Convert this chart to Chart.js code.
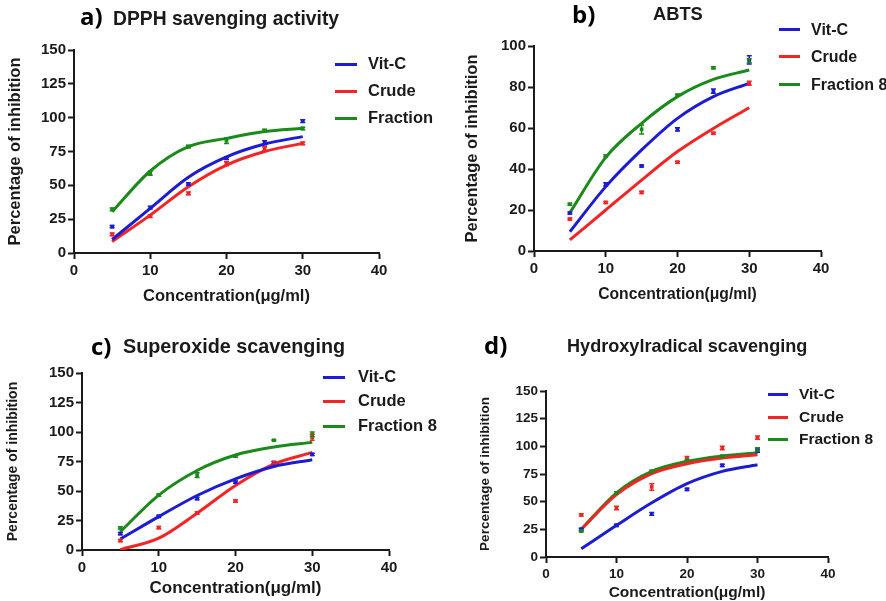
<!DOCTYPE html>
<html><head><meta charset="utf-8">
<script src="https://cdn.jsdelivr.net/npm/chart.js@4.4.0/dist/chart.umd.min.js"></script>
<style>
html,body{margin:0;padding:0;background:#fff;}
#wrap{position:relative;width:886px;height:601px;overflow:hidden;font-family:"Liberation Sans",Arial,sans-serif;background:#fff;}
canvas{position:absolute;left:0;top:0;pointer-events:none;}
.t{position:absolute;white-space:nowrap;font-weight:bold;color:#1a1a1a;line-height:1.2;}
.lab{font-family:"Open Sans",sans-serif;color:#000;}
.ls{position:absolute;height:3px;}
</style></head>
<body><div id="wrap"></div>
<script>
// ---------- data ----------
const conc = [5, 10, 15, 20, 25, 30];
const seriesNames = ['Vit-C', 'Crude', 'Fraction 8'];
const seriesNamesA = ['Vit-C', 'Crude', 'Fraction'];
const xTicks = [0, 10, 20, 30, 40];

// a) DPPH
const dpphVitC = [19.5, 33.5, 51, 70, 81.5, 97.5];
const dpphCrude = [13.8, 27.3, 44, 66, 77, 81];
const dpphFraction = [32.3, 58.9, 78.6, 83, 90.4, 92];
const dpphVitCErr = [0.8, 1, 1, 1, 1.5, 1];
const dpphCrudeErr = [1, 1, 1, 1.5, 1.5, 1];
const dpphFractionErr = [1, 1.5, 1, 2, 1, 1];
const dpphVitCFit = [10, 33, 56, 71, 80.5, 86];
const dpphCrudeFit = [8.4, 28, 49, 65, 75, 81];
const dpphFractionFit = [30.5, 60.6, 78.6, 84.7, 89.7, 92.1];

// b) ABTS
const abtsVitC = [18.5, 32.5, 41.5, 59.3, 78, 93.2];
const abtsCrude = [15.6, 23.7, 28.6, 43.3, 57.4, 81.8];
const abtsFraction = [22.8, 46.3, 59.3, 76, 89.4, 92.8];
const abtsVitCErr = [0.5, 0.8, 0.5, 0.8, 1, 2];
const abtsCrudeErr = [0.5, 0.5, 0.5, 0.5, 0.5, 1];
const abtsFractionErr = [0.5, 0.5, 2.2, 0.5, 0.5, 1];
const abtsVitCFit = [9.4, 31.4, 49.3, 64.7, 75.3, 81.8];
const abtsCrudeFit = [5.4, 20, 34.6, 48.5, 59.8, 69.9];
const abtsFractionFit = [18.7, 45.7, 62.3, 75.3, 83.7, 88.3];

// c) Superoxide
const supVitC = [13.9, 28.5, 43.6, 57.5, 74, 81];
const supCrude = [8, 19, 31.4, 41.4, 74, 95.5];
const supFraction = [18.7, 46.5, 63.5, 79.6, 93, 98];
const supVitCErr = [1, 1, 1, 1, 1, 1];
const supCrudeErr = [1, 1, 1, 1, 1, 2.5];
const supFractionErr = [1, 1, 2, 1, 0.5, 2];
const supVitCFit = [9.3, 28.3, 46.2, 60.3, 70.8, 76.5];
const supCrudeFit = [0.3, 10, 31.2, 54.7, 72.8, 82.7];
const supFractionFit = [15.6, 46.5, 67.4, 80.5, 87.3, 91.2];

// d) Hydroxyl radical
const hydVitC = [25, 28.6, 38.9, 61.1, 82.8, 96.1];
const hydCrude = [38, 44.3, 63.3, 88.9, 98.5, 107.8];
const hydFraction = [23.5, 58, 77.4, 87.3, 91, 97.3];
const hydVitCErr = [1, 1, 1.2, 1, 1, 1.5];
const hydCrudeErr = [1, 1.5, 3, 2, 1.5, 1.5];
const hydFractionErr = [1, 1, 1, 1, 1, 1.5];
const hydVitCFit = [7.5, 28.6, 49, 66.3, 77.4, 83.4];
const hydCrudeFit = [25, 56.3, 75.3, 84.3, 89.5, 92.5];
const hydFractionFit = [25, 58, 77.4, 86.4, 91.3, 94.3];

// ---------- style ----------
const COLORS = ['#1c1cd2', '#f42424', '#1b8a1b'];
const INK = '#1a1a1a';
const FONT = '"Liberation Sans", Arial, sans-serif';

const panels = [
  { id: 'a', pts: [dpphVitC, dpphCrude, dpphFraction], errs: [dpphVitCErr, dpphCrudeErr, dpphFractionErr],
    fits: [dpphVitCFit, dpphCrudeFit, dpphFractionFit], names: seriesNamesA, yMax: 150, yStep: 25,
    L: 74, R: 379, T: 50, B: 253, yTitleX: 15, yTitleSize: 16.5, xTitleY: 296, xTitleSize: 16.5, tickSize: 15,
    leg: { lineX: 335, lineW: 22, textX: 368, ys: [64, 91, 118], size: 16.5 } },
  { id: 'b', pts: [abtsVitC, abtsCrude, abtsFraction], errs: [abtsVitCErr, abtsCrudeErr, abtsFractionErr],
    fits: [abtsVitCFit, abtsCrudeFit, abtsFractionFit], names: seriesNames, yMax: 100, yStep: 20,
    L: 534, R: 821, T: 46, B: 251, yTitleX: 472, yTitleSize: 16.5, xTitleY: 295, xTitleSize: 15.7, tickSize: 15,
    leg: { lineX: 779, lineW: 21, textX: 811, ys: [29, 56, 84], size: 16 } },
  { id: 'c', pts: [supVitC, supCrude, supFraction], errs: [supVitCErr, supCrudeErr, supFractionErr],
    fits: [supVitCFit, supCrudeFit, supFractionFit], names: seriesNames, yMax: 150, yStep: 25,
    L: 82, R: 389, T: 373, B: 550, yTitleX: 13, yTitleSize: 14, xTitleY: 588, xTitleSize: 17, tickSize: 15,
    leg: { lineX: 323, lineW: 22, textX: 358, ys: [377, 401, 426], size: 16.5 } },
  { id: 'd', pts: [hydVitC, hydCrude, hydFraction], errs: [hydVitCErr, hydCrudeErr, hydFractionErr],
    fits: [hydVitCFit, hydCrudeFit, hydFractionFit], names: seriesNames, yMax: 150, yStep: 25,
    L: 546, R: 828, T: 391, B: 557, yTitleX: 485, yTitleSize: 13.5, xTitleY: 593, xTitleSize: 15.5, tickSize: 13.5,
    leg: { lineX: 768, lineW: 20, textX: 799, ys: [394, 417, 439], size: 15.5 } }
];

const titles = [
  { text: 'a)', x: 80, cy: 16, size: 24, cls: 'lab' },
  { text: 'DPPH savenging activity', x: 113, cy: 18, size: 19.3 },
  { text: 'b)', x: 572, cy: 14, size: 24, cls: 'lab' },
  { text: 'ABTS', x: 653, cy: 14, size: 18.3 },
  { text: 'c)', x: 91, cy: 346, size: 24, cls: 'lab' },
  { text: 'Superoxide scavenging', x: 123, cy: 347, size: 19.8 },
  { text: 'd)', x: 484, cy: 345, size: 24, cls: 'lab' },
  { text: 'Hydroxylradical scavenging', x: 567, cy: 347, size: 18.1 }
];

// ---------- plugin: error bars ----------
const errorBars = {
  id: 'errorBars',
  afterDatasetsDraw(chart) {
    const ctx = chart.ctx, ys = chart.scales.y;
    chart.data.datasets.forEach((ds, i) => {
      if (!ds.errors) return;
      const meta = chart.getDatasetMeta(i);
      ctx.save();
      ctx.strokeStyle = ds.borderColor; ctx.lineWidth = 1.5;
      meta.data.forEach((el, j) => {
        const v = ds.data[j].y, e = ds.errors[j];
        const y1 = ys.getPixelForValue(v + e), y2 = ys.getPixelForValue(v - e);
        ctx.beginPath();
        ctx.moveTo(el.x, y1); ctx.lineTo(el.x, y2);
        ctx.moveTo(el.x - 2.5, y1); ctx.lineTo(el.x + 2.5, y1);
        ctx.moveTo(el.x - 2.5, y2); ctx.lineTo(el.x + 2.5, y2);
        ctx.stroke();
      });
      ctx.restore();
    });
  }
};

const wrap = document.getElementById('wrap');
const W = 886, H = 601;

panels.forEach(p => {
  const cv = document.createElement('canvas');
  cv.width = W; cv.height = H;
  wrap.appendChild(cv);
  const yLH = p.yTitleSize * 1.2, xLH = p.xTitleSize * 1.2;
  const padLeft = p.yTitleX - yLH / 2;
  const padBottom = H - p.xTitleY - xLH / 2;
  const yWidth = p.L - padLeft;
  const xHeight = (H - padBottom) - p.B;
  const datasets = [];
  p.fits.forEach((f, k) => {
    datasets.push({
      type: 'line', label: p.names[k] + ' fit',
      data: conc.map((c, j) => ({ x: c, y: f[j] })),
      borderColor: COLORS[k], borderWidth: 3, pointRadius: 0, fill: false,
      cubicInterpolationMode: 'monotone', order: 2
    });
  });
  p.pts.forEach((s, k) => {
    datasets.push({
      type: 'scatter', label: p.names[k],
      data: conc.map((c, j) => ({ x: c, y: s[j] })),
      errors: p.errs[k],
      borderColor: COLORS[k], backgroundColor: COLORS[k],
      pointStyle: 'rect', pointRadius: 2.6, borderWidth: 0, showLine: false, order: 1
    });
  });
  const axisCommon = {
    grid: { drawOnChartArea: false, drawTicks: true, tickLength: 6, tickColor: INK, tickWidth: 2 },
    border: { display: true, color: INK, width: 2 }
  };
  new Chart(cv, {
    type: 'scatter',
    data: { datasets },
    options: {
      responsive: false, animation: false, devicePixelRatio: 1,
      layout: { padding: { left: padLeft, top: p.T, right: W - p.R, bottom: padBottom } },
      plugins: { legend: { display: false }, tooltip: { enabled: false } },
      scales: {
        x: Object.assign({}, axisCommon, {
          type: 'linear', min: xTicks[0], max: xTicks[xTicks.length - 1],
          afterBuildTicks: s => { s.ticks = xTicks.map(v => ({ value: v })); },
          ticks: { color: INK, padding: 3, font: { family: FONT, size: p.tickSize, weight: 'bold' } },
          title: { display: true, text: 'Concentration(μg/ml)', color: INK, padding: 0,
                   font: { family: FONT, size: p.xTitleSize, weight: 'bold' } },
          afterFit: s => { s.height = xHeight; }
        }),
        y: Object.assign({}, axisCommon, {
          type: 'linear', min: 0, max: p.yMax,
          ticks: { stepSize: p.yStep, color: INK, padding: 2, font: { family: FONT, size: p.tickSize, weight: 'bold' } },
          title: { display: true, text: 'Percentage of inhibition', color: INK, padding: 0,
                   font: { family: FONT, size: p.yTitleSize, weight: 'bold' } },
          afterFit: s => { s.width = yWidth; }
        })
      }
    },
    plugins: [errorBars]
  });
  // legend (HTML)
  p.names.forEach((n, k) => {
    const ln = document.createElement('div');
    ln.className = 'ls';
    ln.style.left = p.leg.lineX + 'px'; ln.style.top = (p.leg.ys[k] - 1.5) + 'px';
    ln.style.width = p.leg.lineW + 'px'; ln.style.background = COLORS[k];
    wrap.appendChild(ln);
    const tx = document.createElement('div');
    tx.className = 't';
    tx.textContent = n;
    tx.style.fontSize = p.leg.size + 'px';
    tx.style.left = p.leg.textX + 'px';
    tx.style.top = (p.leg.ys[k] - p.leg.size * 0.59) + 'px';
    wrap.appendChild(tx);
  });
});

titles.forEach(t => {
  const d = document.createElement('div');
  d.className = 't' + (t.cls ? ' ' + t.cls : '');
  d.textContent = t.text;
  d.style.fontSize = t.size + 'px';
  d.style.left = t.x + 'px';
  d.style.top = (t.cy - t.size * 0.59) + 'px';
  wrap.appendChild(d);
});
</script>
</body></html>
